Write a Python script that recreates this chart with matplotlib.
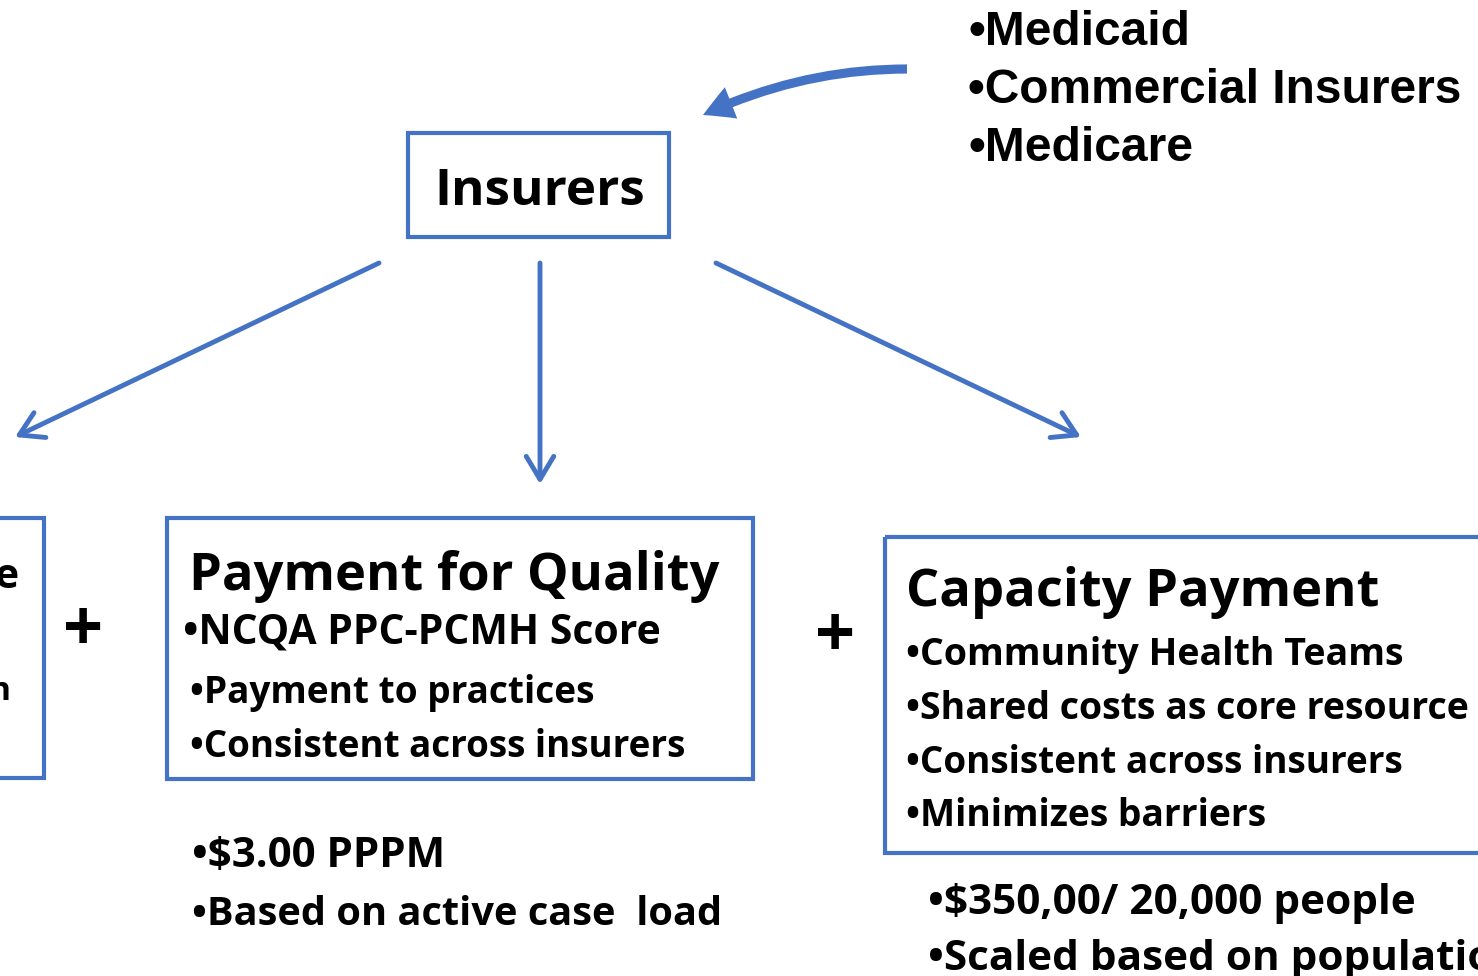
import matplotlib.pyplot as plt
from matplotlib.patches import Rectangle, FancyArrowPatch

# diagram text
hub_label = "Insurers"
payers = ["•Medicaid", "•Commercial Insurers", "•Medicare"]
left_fragments = ["e", "n"]
quality_title = "Payment for Quality"
quality_items = ["•NCQA PPC-PCMH Score", "•Payment to practices", "•Consistent across insurers"]
quality_notes = ["•$3.00 PPPM", "•Based on active case  load"]
capacity_title = "Capacity Payment"
capacity_items = ["•Community Health Teams", "•Shared costs as core resource",
                  "•Consistent across insurers", "•Minimizes barriers"]
capacity_notes = ["•$350,00/ 20,000 people", "•Scaled based on population"]

blue = "#4472C4"
W, H = 1478, 976

fig = plt.figure(figsize=(W / 100, H / 100), dpi=100)
ax = fig.add_axes([0, 0, 1, 1])
ax.set_xlim(0, W)
ax.set_ylim(H, 0)
ax.axis("off")
renderer = fig.canvas.get_renderer()

font = "Open Sans"


def fit(x, y, s, width=None, size=30, family=font, **kw):
    # place text and scale its size so the rendered width matches the target
    t = ax.text(x, y, s, fontsize=size, fontweight="bold", family=family,
                va="baseline", color="black", **kw)
    if width is not None:
        w = t.get_window_extent(renderer).width
        t.set_fontsize(size * width / w)
    return t


def box(x0, y0, x1, y1):
    ax.add_patch(Rectangle((x0, y0), x1 - x0, y1 - y0, fill=False,
                           edgecolor=blue, linewidth=3))


def arrow(p0, p1):
    ax.add_patch(FancyArrowPatch(p0, p1, arrowstyle="->,head_length=0.75,head_width=0.45",
                                 mutation_scale=22, color=blue, linewidth=3.5,
                                 shrinkA=0, shrinkB=0))


# hub
box(408, 133, 669, 237)
fit(434, 205, hub_label, 211)

# payer list and curved arrow
payer_y = [45, 103, 161]
payer_w = [222, 494, 225]
for s, y, w in zip(payers, payer_y, payer_w):
    fit(968, y, s, w, family="Liberation Sans")
ax.add_patch(FancyArrowPatch((907, 69), (703, 115),
                             connectionstyle="angle3,angleA=0,angleB=25",
                             arrowstyle="simple,head_length=1.0,head_width=1.1,tail_width=0.3",
                             mutation_scale=22, color=blue, linewidth=0,
                             shrinkA=0, shrinkB=0))

# arrows down
arrow((379, 263), (15, 437))
arrow((540, 263), (540, 484))
arrow((716, 263), (1081, 437))

# left (cut off) box
box(-20, 518, 44, 778)
fit(18, 588, left_fragments[0], 24, ha="right")
fit(10, 700, left_fragments[1], 22, ha="right")
fit(83, 632, "+", 40, ha="center").set_va("center")

# quality box
box(167, 518, 753, 779)
fit(189, 590, quality_title, 529)
q_x = [183, 190, 190]
q_y = [644, 703, 757]
q_w = [477, 405, 496]
for s, x, y, w in zip(quality_items, q_x, q_y, q_w):
    fit(x, y, s, w)
for s, y, w in zip(quality_notes, [867, 925], [253, 530]):
    fit(192, y, s, w)

fit(835, 638, "+", 40, ha="center").set_va("center")

# capacity box
box(885, 537, W + 20, 853)
fit(906, 606, capacity_title, 473)
c_y = [665, 719, 773, 826]
c_w = [498, 564, 498, 362]
for s, y, w in zip(capacity_items, c_y, c_w):
    fit(906, y, s, w)
t = fit(928, 914, capacity_notes[0], 487)
fit(928, 970, capacity_notes[1], size=t.get_fontsize())

fig.savefig("out.png", dpi=100)
